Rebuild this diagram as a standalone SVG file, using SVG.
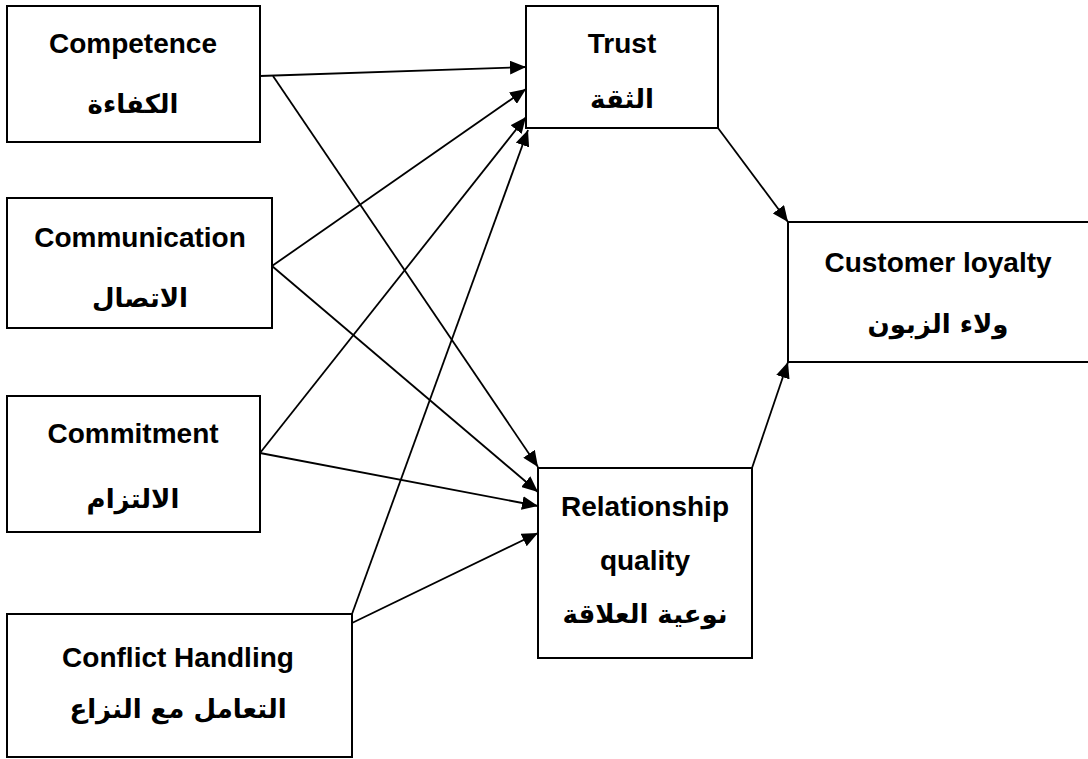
<svg xmlns="http://www.w3.org/2000/svg" width="1088" height="759" viewBox="0 0 1088 759">
<style>
.box{fill:#fff;stroke:#000;stroke-width:2}
.en{font-family:"Liberation Sans",Arial,sans-serif;font-weight:bold;font-size:28px;fill:#000;text-anchor:middle}
.ar{font-family:"DejaVu Sans","Noto Sans",sans-serif;font-weight:bold;font-size:26px;fill:#000;text-anchor:middle}
.ln{stroke:#000;stroke-width:1.8;fill:none;marker-end:url(#ah)}
</style>
<defs>
<marker id="ah" markerUnits="userSpaceOnUse" markerWidth="18" markerHeight="14" refX="16" refY="7" orient="auto">
<path d="M0,0 L16,7 L0,14 Z" fill="#000"/>
</marker>
</defs>
<rect width="1088" height="759" fill="#fff"/>
<g id="competence">
<rect class="box" x="7" y="6" width="253" height="136"/>
<text class="en" x="133" y="53">Competence</text>
<text class="ar" x="133" y="113">الكفاءة</text>
</g>
<g id="communication">
<rect class="box" x="7" y="198" width="265" height="130"/>
<text class="en" x="140" y="247">Communication</text>
<text class="ar" x="140" y="307">الاتصال</text>
</g>
<g id="commitment">
<rect class="box" x="7" y="396" width="253" height="136"/>
<text class="en" x="133" y="443">Commitment</text>
<text class="ar" x="133" y="508">الالتزام</text>
</g>
<g id="conflict">
<rect class="box" x="7" y="614" width="345" height="143"/>
<text class="en" x="178" y="667">Conflict Handling</text>
<text class="ar" x="178" y="718">التعامل مع النزاع</text>
</g>
<g id="trust">
<rect class="box" x="526" y="6" width="192" height="122"/>
<text class="en" x="622" y="53">Trust</text>
<text class="ar" x="622" y="108">الثقة</text>
</g>
<g id="relationship">
<rect class="box" x="538" y="468" width="214" height="190"/>
<text class="en" x="645" y="516">Relationship</text>
<text class="en" x="645" y="570">quality</text>
<text class="ar" x="645" y="623">نوعية العلاقة</text>
</g>
<g id="loyalty">
<rect class="box" x="788" y="222" width="320" height="140"/>
<text class="en" x="938" y="272">Customer loyalty</text>
<text class="ar" x="938" y="333">ولاء الزبون</text>
</g>
<g id="connectors">
<line class="ln" x1="260" y1="76" x2="526" y2="67"/>
<line class="ln" x1="273" y1="76" x2="538" y2="467"/>
<line class="ln" x1="272" y1="266" x2="526" y2="89"/>
<line class="ln" x1="272" y1="266" x2="538" y2="492"/>
<line class="ln" x1="260" y1="453" x2="526" y2="117"/>
<line class="ln" x1="260" y1="453" x2="538" y2="506"/>
<line class="ln" x1="352" y1="614" x2="528" y2="130"/>
<line class="ln" x1="352" y1="623" x2="538" y2="533"/>
<line class="ln" x1="718" y1="128" x2="788" y2="222"/>
<line class="ln" x1="752" y1="468" x2="788" y2="362"/>
</g>
</svg>
